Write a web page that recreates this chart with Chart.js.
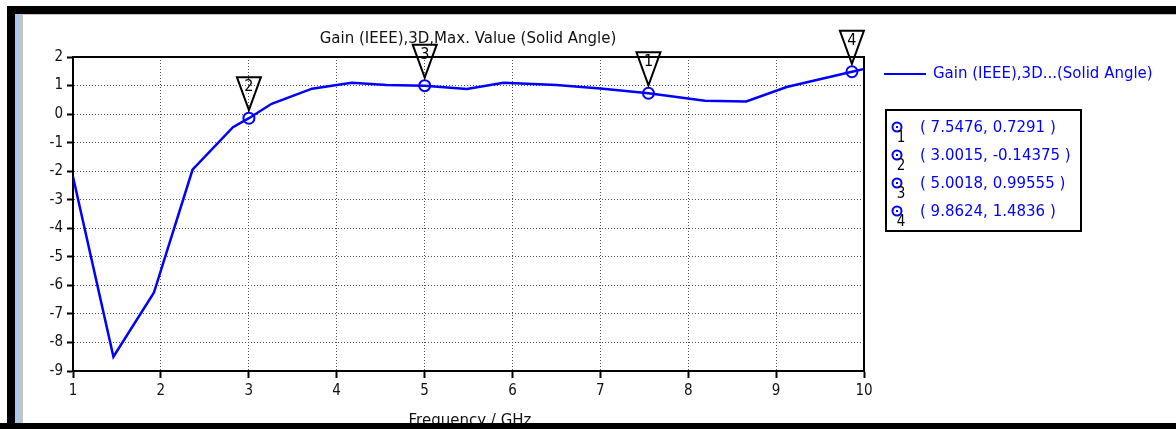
<!DOCTYPE html>
<html>
<head>
<meta charset="utf-8">
<title>Gain (IEEE),3D,Max. Value (Solid Angle)</title>
<script src="https://cdn.jsdelivr.net/npm/chart.js@4/dist/chart.umd.min.js"></script>
<style>
  html, body { margin: 0; padding: 0; background: #ffffff; overflow: hidden; }
  #wrap { width: 1176px; height: 429px; position: relative; }
  canvas { display: block; }
</style>
</head>
<body>
<div id="wrap"><canvas id="gain" width="1176" height="429"></canvas></div>
<script>
// Frequency sweep (GHz) and far-field gain (dB) along the curve
const frequencyGHz = [1.0, 1.46, 1.92, 2.36, 2.82, 3.0015, 3.26, 3.72, 4.17, 4.57, 5.0018, 5.48, 5.9, 6.5, 7.0, 7.5476, 8.19, 8.66, 9.12, 9.8624, 10.0];
const gainDb       = [-2.2, -8.5, -6.26, -1.95, -0.46, -0.14375, 0.36, 0.89, 1.1, 1.02, 0.99555, 0.88, 1.1, 1.02, 0.9, 0.7291, 0.47, 0.44, 0.95, 1.4836, 1.58];

// Marker readouts (numbered 1..4)
const markerIds   = ['1', '2', '3', '4'];
const markerFreq  = [7.5476, 3.0015, 5.0018, 9.8624];
const markerGain  = [0.7291, -0.14375, 0.99555, 1.4836];

// Axis ticks
const xTicks = [1, 2, 3, 4, 5, 6, 7, 8, 9, 10];
const yTicks = [2, 1, 0, -1, -2, -3, -4, -5, -6, -7, -8, -9];

const titleText  = 'Gain (IEEE),3D,Max. Value (Solid Angle)';
const xTitleText = 'Frequency / GHz';
const seriesName = 'Gain (IEEE),3D...(Solid Angle)';

const TICK_FONT = '"DejaVu Sans Condensed", "DejaVu Sans", sans-serif';
const TEXT_FONT = '"DejaVu Sans", sans-serif';
const BLUE = '#0000ff';

const curve = frequencyGHz.map((f, i) => ({ x: f, y: gainDb[i] }));
const markers = markerFreq.map((f, i) => ({ x: f, y: markerGain[i] }));

// Window frame, title, axis title, marker flags and the side legend
const decorations = {
  id: 'decorations',
  beforeDraw(chart) {
    const ctx = chart.ctx;
    ctx.save();
    ctx.fillStyle = '#ffffff';
    ctx.fillRect(0, 0, chart.width, chart.height);
    ctx.restore();
  },
  afterDatasetsDraw(chart) {
    const ctx = chart.ctx;
    const xs = chart.scales.x, ys = chart.scales.y;
    const a = chart.chartArea;
    ctx.save();
    // top and right edges of the plot box
    ctx.strokeStyle = '#000';
    ctx.lineWidth = 2;
    ctx.beginPath();
    ctx.moveTo(a.left, a.top);
    ctx.lineTo(a.right, a.top);
    ctx.lineTo(a.right, a.bottom);
    ctx.stroke();

    // centre dots on the marker circles
    ctx.fillStyle = BLUE;
    markers.forEach(m => {
      const px = xs.getPixelForValue(m.x), py = ys.getPixelForValue(m.y);
      ctx.fillRect(Math.round(px) - 1, Math.round(py) - 1, 2, 2);
    });

    // numbered flags above each marker
    ctx.strokeStyle = '#000';
    ctx.lineWidth = 2;
    ctx.font = '16px ' + TICK_FONT;
    ctx.textAlign = 'center';
    ctx.textBaseline = 'middle';
    markers.forEach((m, i) => {
      const px = xs.getPixelForValue(m.x), py = ys.getPixelForValue(m.y);
      ctx.beginPath();
      ctx.moveTo(px - 12, py - 41);
      ctx.lineTo(px + 12, py - 41);
      ctx.lineTo(px, py - 8);
      ctx.closePath();
      ctx.stroke();
      ctx.fillStyle = '#000';
      ctx.fillText(markerIds[i], px, py - 31);
    });

    // title
    ctx.fillStyle = '#111';
    ctx.font = '15px ' + TEXT_FONT;
    ctx.textAlign = 'center';
    ctx.textBaseline = 'alphabetic';
    ctx.fillText(titleText, 468, 43);
    // x axis title
    ctx.fillText(xTitleText, 470, 425);

    // series legend
    ctx.strokeStyle = BLUE;
    ctx.lineWidth = 2;
    ctx.beginPath();
    ctx.moveTo(884, 74);
    ctx.lineTo(926, 74);
    ctx.stroke();
    ctx.fillStyle = BLUE;
    ctx.textAlign = 'left';
    ctx.textBaseline = 'middle';
    ctx.font = '15px ' + TEXT_FONT;
    ctx.fillText(seriesName, 933, 74);

    // marker readout box
    ctx.strokeStyle = '#000';
    ctx.lineWidth = 2;
    ctx.strokeRect(886, 110, 195, 121);
    markers.forEach((m, i) => {
      const ry = 127 + i * 28;
      ctx.strokeStyle = BLUE;
      ctx.lineWidth = 2;
      ctx.beginPath();
      ctx.arc(897, ry, 4.5, 0, Math.PI * 2);
      ctx.stroke();
      ctx.fillStyle = BLUE;
      ctx.fillRect(896, ry - 1, 2, 2);
      ctx.fillStyle = '#000';
      ctx.font = '15px ' + TICK_FONT;
      ctx.textAlign = 'center';
      ctx.fillText(markerIds[i], 901, ry + 11);
      ctx.fillStyle = BLUE;
      ctx.font = '15px ' + TEXT_FONT;
      ctx.textAlign = 'left';
      ctx.fillText('( ' + String(m.x) + ', ' + String(m.y) + ' )', 920, ry + 1);
    });
    ctx.restore();
  },
  afterDraw(chart) {
    const ctx = chart.ctx;
    ctx.save();
    // window frame
    ctx.fillStyle = '#000';
    ctx.fillRect(7, 6, chart.width - 7, 8);
    ctx.fillRect(7, 6, 8, chart.height - 6);
    ctx.fillRect(0, 423, chart.width, 6);
    ctx.fillStyle = '#aac8ee';
    ctx.fillRect(15, 14, 5, 409);
    ctx.fillStyle = '#c4c4c4';
    ctx.fillRect(20, 14, 3, 409);
    ctx.fillRect(20, 14, chart.width - 20, 1);
    ctx.restore();
  }
};

const gridCommon = {
  color: '#505050',
  lineWidth: 1,
  drawTicks: true,
  tickColor: '#000',
  tickWidth: 2,
  tickBorderDash: []
};
// dotted grid lines (in v4 the dash pattern lives under border.dash)
const borderCommon = { display: true, color: '#000', width: 2, dash: [1, 2] };

new Chart(document.getElementById('gain'), {
  type: 'line',
  data: {
    datasets: [
      {
        label: seriesName,
        data: curve,
        borderColor: BLUE,
        borderWidth: 2.5,
        pointRadius: 0,
        tension: 0,
        fill: false
      },
      {
        label: 'markers',
        data: markers,
        showLine: false,
        pointStyle: 'circle',
        pointRadius: 5.5,
        pointBorderWidth: 2,
        pointBorderColor: BLUE,
        pointBackgroundColor: '#ffffff'
      }
    ]
  },
  options: {
    responsive: false,
    animation: false,
    events: [],
    layout: { padding: { left: 0, right: 312, top: 57, bottom: 0 } },
    plugins: {
      legend: { display: false },
      title: { display: false },
      tooltip: { enabled: false }
    },
    scales: {
      x: {
        type: 'linear',
        min: 1,
        max: 10,
        afterBuildTicks: s => { s.ticks = xTicks.map(v => ({ value: v })); },
        afterFit: s => { s.height = 58; },
        ticks: { color: '#111', font: { family: TICK_FONT, size: 15 }, padding: 4, maxRotation: 0 },
        grid: Object.assign({}, gridCommon, { tickLength: 7 }),
        border: borderCommon
      },
      y: {
        type: 'linear',
        min: -9,
        max: 2,
        afterBuildTicks: s => { s.ticks = yTicks.map(v => ({ value: v })); },
        afterFit: s => { s.width = 73; },
        ticks: { color: '#111', font: { family: TICK_FONT, size: 15 }, padding: 4 },
        grid: Object.assign({}, gridCommon, { tickLength: 6 }),
        border: borderCommon
      }
    }
  },
  plugins: [decorations]
});
</script>
</body>
</html>
